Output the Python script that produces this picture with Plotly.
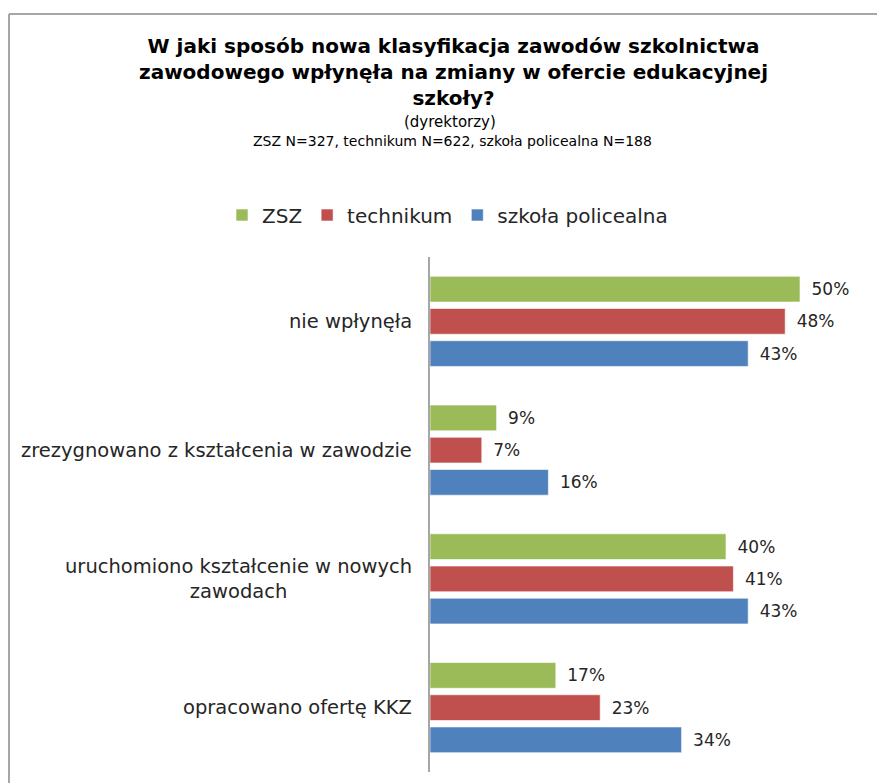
import plotly.graph_objects as go

categories = ["nie wpłynęła", "zrezygnowano z kształcenia w zawodzie",
              "uruchomiono kształcenie w nowych<br>zawodach", "opracowano ofertę KKZ"]
series_names = ["ZSZ", "technikum", "szkoła policealna"]
zsz = [50, 9, 40, 17]
technikum = [48, 7, 41, 23]
policealna = [43, 16, 43, 34]
colors = ["#9BBB59", "#C0504D", "#4F81BD"]

# page has an 8px body margin; figure is sized to fill the rest of the window
OFF = 8
W, H = 885 - OFF, 783 - OFF
PL, PR, PT, PB = 430, 874, 257, 772   # plot area in window pixels
L, R, T, B = PL - OFF, 885 - PR, PT - OFF, 783 - PB
pw, ph = PR - PL, PB - PT

def px(x):
    return (x - PL) / pw

def py(y):
    return (PB - y) / ph

FONT = "DejaVu Sans, Liberation Sans, Arial, sans-serif"
TXT = "#262626"

fig = go.Figure()
for name, vals, col in zip(series_names, [zsz, technikum, policealna], colors):
    fig.add_trace(go.Bar(
        y=categories, x=vals, name=name, orientation="h",
        marker=dict(color=col, line=dict(color="rgba(255,255,255,0.6)", width=1)),
        text=vals, texttemplate="\u2002%{x}%", textposition="outside",
        textfont=dict(size=17, color=TXT, family=FONT), cliponaxis=False,
        hoverinfo="skip",
    ))

annotations = [
    dict(text="<b>W jaki sposób nowa klasyfikacja zawodów szkolnictwa<br>"
              "zawodowego wpłynęła na zmiany w ofercie edukacyjnej<br>szkoły?</b>",
         x=px(453), y=py(32), xanchor="center", yanchor="top",
         font=dict(size=20, color="#000000", family=FONT), showarrow=False),
    dict(text="(dyrektorzy)", x=px(450), y=py(122), xanchor="center", yanchor="middle",
         font=dict(size=15, color="#000000", family=FONT), showarrow=False),
    dict(text="ZSZ N=327, technikum N=622, szkoła policealna N=188", x=px(452), y=py(141),
         xanchor="center", yanchor="middle",
         font=dict(size=14, color="#000000", family=FONT), showarrow=False),
]
for c in categories:
    annotations.append(dict(text=c, x=px(414), y=c, xref="paper", yref="y",
                            xanchor="right", yanchor="middle", align="center",
                            font=dict(size=19.5, color=TXT, family=FONT), showarrow=False))
for a in annotations:
    a.setdefault("xref", "paper")
    a.setdefault("yref", "paper")

shapes = [
    dict(type="line", xref="paper", yref="paper", x0=px(9), x1=px(890), y0=py(14), y1=py(14),
         line=dict(color="#A6A6A6", width=2)),
    dict(type="line", xref="paper", yref="paper", x0=px(9), x1=px(9), y0=py(14), y1=py(790),
         line=dict(color="#A6A6A6", width=2)),
]

fig.update_layout(
    width=W, height=H,
    margin=dict(l=L, r=R, t=T, b=B, pad=0),
    paper_bgcolor="white", plot_bgcolor="white",
    barmode="group", bargap=0.25, bargroupgap=0.2,
    font=dict(family=FONT, color=TXT),
    showlegend=True,
    legend=dict(orientation="h", x=px(222), y=py(215), xanchor="left", yanchor="middle",
                font=dict(size=20, color=TXT, family=FONT), traceorder="normal",
                itemwidth=30, bgcolor="rgba(0,0,0,0)"),
    xaxis=dict(range=[0, 60], visible=False, fixedrange=True),
    yaxis=dict(categoryorder="array", categoryarray=categories, autorange="reversed",
               showticklabels=False, showline=True, linecolor="#A6A6A6", linewidth=2,
               ticks="", showgrid=False, zeroline=False),
    annotations=annotations, shapes=shapes,
)

fig.write_html("out.html")
